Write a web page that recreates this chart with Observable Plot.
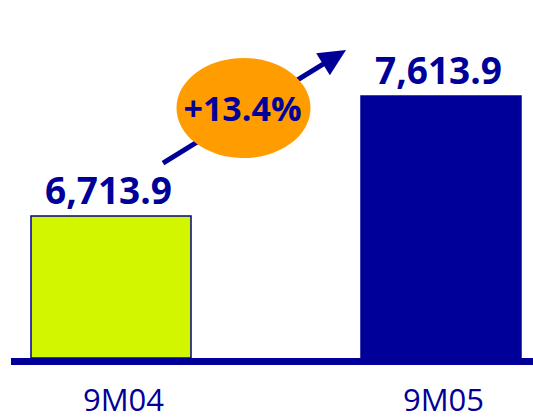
<!DOCTYPE html>
<html><head><meta charset="utf-8">
<script src="https://cdn.jsdelivr.net/npm/d3@7"></script>
<script src="https://cdn.jsdelivr.net/npm/@observablehq/plot@0.6"></script>
<style>body{margin:0;background:#fff;overflow:hidden;}</style>
</head><body><div id="chart"></div>
<script>
const periods = ["9M04", "9M05"];
const values = [6713.9, 7613.9];
const barColors = ["#d2f500", "#000099"];
const growthLabel = "+13.4%";
const axisBase = 5649;

const navy = "#000099";
const data = periods.map((p, i) => ({period: p, value: values[i], color: barColors[i]}));

function annotation(index, scales, vals, dims) {
  const x = scales.x, y = scales.y;
  const bw = x.bandwidth ? x.bandwidth() : 0;
  const xa = x(periods[0]) + bw / 2, xb = x(periods[1]) + bw / 2;
  const ya = y(values[0]), yb = y(values[1]);
  const sx = xa + 52, sy = ya - 53;
  const tx = xb - 95, ty = yb - 46;
  const len = Math.hypot(tx - sx, ty - sy);
  const ux = (tx - sx) / len, uy = (ty - sy) / len;
  const bx = tx - 27 * ux, by = ty - 27 * uy;
  const nx = -uy, ny = ux;
  const g = d3.create("svg:g");
  g.append("line").attr("x1", sx).attr("y1", sy).attr("x2", bx + 2 * ux).attr("y2", by + 2 * uy)
    .attr("stroke", navy).attr("stroke-width", 5);
  g.append("path")
    .attr("d", `M${tx},${ty}L${bx + 13 * nx},${by + 13 * ny}L${bx - 13 * nx},${by - 13 * ny}Z`)
    .attr("fill", navy);
  const cx = (xa + xb) / 2 - 32.5, cy = yb + 12;
  g.append("ellipse").attr("cx", cx).attr("cy", cy).attr("rx", 67).attr("ry", 50).attr("fill", "#ff9c00");
  g.append("text").attr("x", cx - 1).attr("y", cy + 13).attr("text-anchor", "middle")
    .attr("font-family", "Open Sans").attr("font-weight", 700).attr("font-size", 34)
    .attr("fill", navy).text(growthLabel);
  return g.node();
}

const chart = Plot.plot({
  width: 533,
  height: 419,
  marginLeft: 11,
  marginRight: 0,
  marginTop: 0,
  marginBottom: 0,
  x: {type: "band", domain: periods, range: [30, 521], paddingInner: 0.5166, paddingOuter: 0, axis: null},
  y: {domain: [axisBase, values[1]], range: [358, 96], axis: null},
  marks: [
    Plot.barY(data, {x: "period", y1: axisBase, y2: "value", fill: "color", stroke: navy, strokeWidth: 1.5}),
    Plot.ruleY([axisBase], {stroke: navy, strokeWidth: 7, dy: 3}),
    Plot.text(data, {x: "period", y: "value", text: d => d3.format(",.1f")(d.value), dy: -13, dx: -3,
      lineAnchor: "bottom", fontSize: 37, fontWeight: 700, fontFamily: "Open Sans", fill: navy}),
    Plot.text(data.filter(d => d.period === periods[0]), {x: "period", y: () => axisBase, text: "period", dy: 52, dx: 12,
      lineAnchor: "bottom", fontSize: 31, fontFamily: "Open Sans", fill: navy, ariaLabel: "category"}),
    Plot.text(data.filter(d => d.period === periods[1]), {x: "period", y: () => axisBase, text: "period", dy: 52, dx: 2,
      lineAnchor: "bottom", fontSize: 31, fontFamily: "Open Sans", fill: navy, ariaLabel: "category"}),
    annotation
  ]
});
d3.select(chart).selectAll("g[aria-label=category] text").style("letter-spacing", "3px");
document.getElementById("chart").append(chart);
</script>
</body></html>
